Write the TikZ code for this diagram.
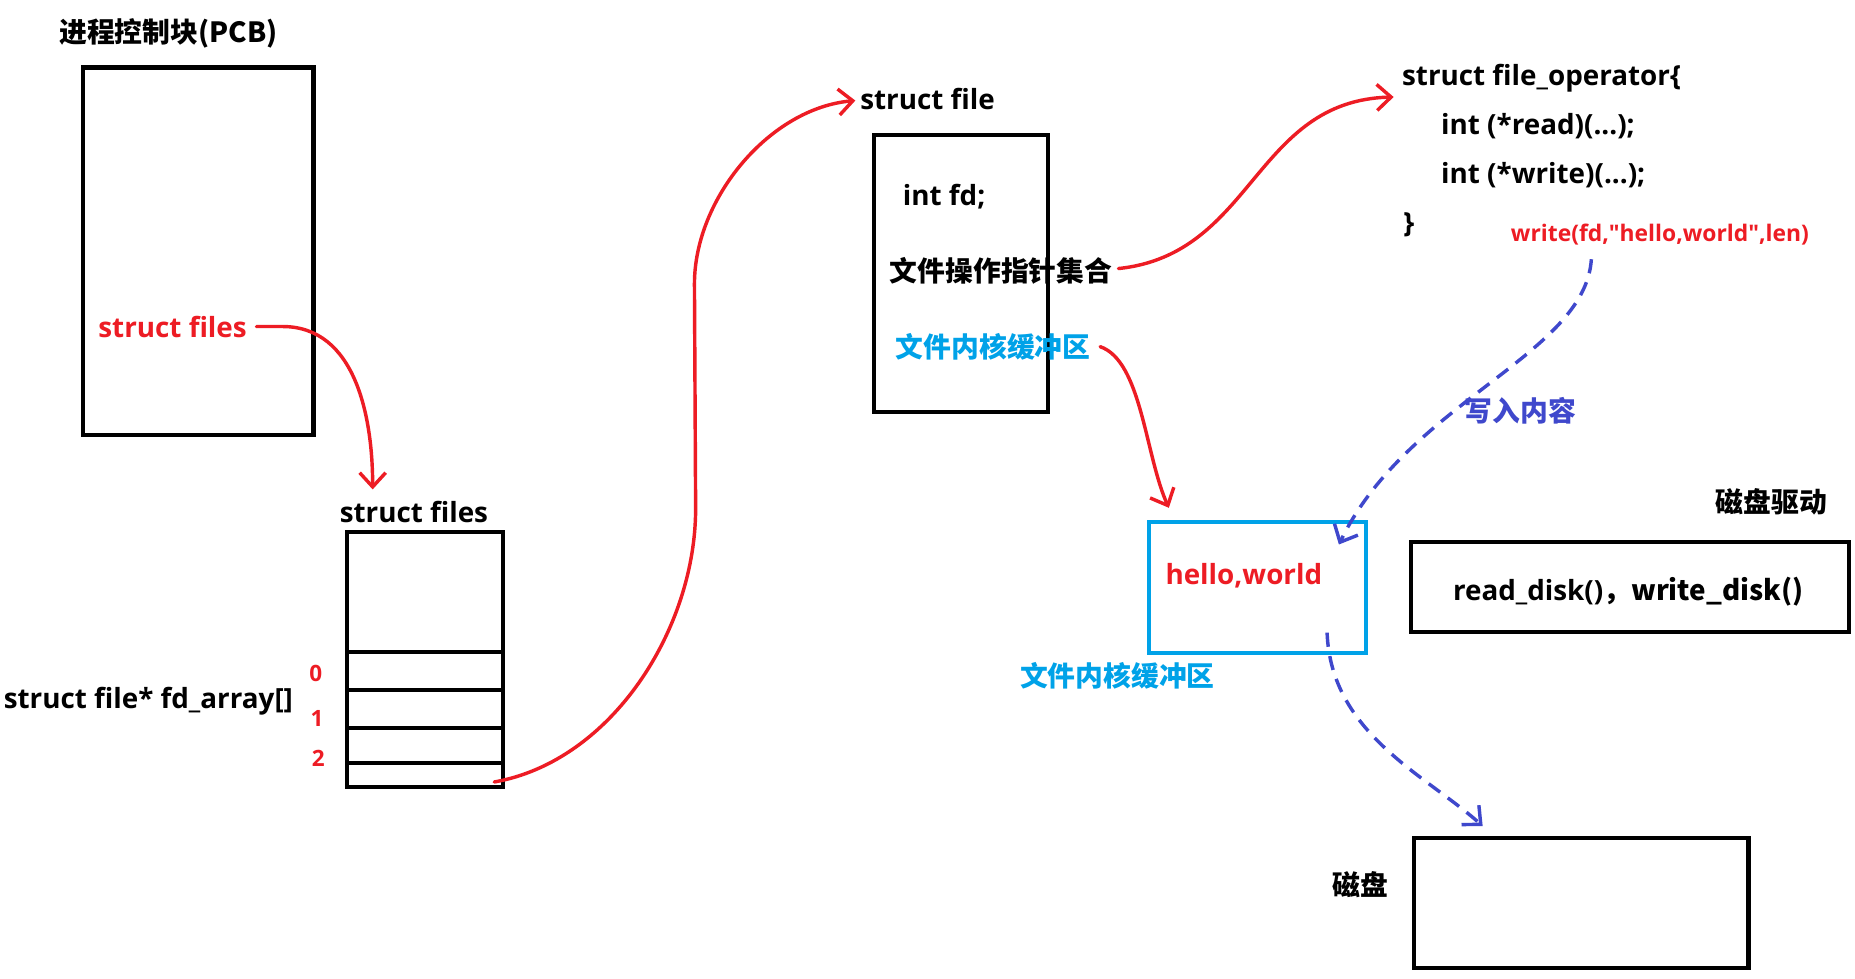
\documentclass[tikz,border=0pt]{standalone}
\usepackage{fontspec}
\setmainfont{Open Sans}
\newfontfamily\plainsans{Open Sans}
\newfontfamily\cjk{Noto Sans CJK SC}
\usetikzlibrary{arrows.meta,calc}
\definecolor{pred}{HTML}{ED1C24}
\definecolor{pcyan}{HTML}{00A2E8}
\definecolor{pblue}{HTML}{3F48CC}
\begin{document}
\begin{tikzpicture}[x=1pt,y=-1pt,
  lbl/.style={anchor=west,inner sep=0pt,font=\bfseries\fontsize{23.5}{28}\selectfont},
  smalllbl/.style={anchor=west,inner sep=0pt,font=\plainsans\bfseries\fontsize{19.3}{23}\selectfont},
  digit/.style={anchor=center,inner sep=0pt,text=pred,font=\bfseries\fontsize{19}{22}\selectfont},
  box/.style={draw=black,line width=3.5pt,inner sep=0pt},
  cbox/.style={draw=pcyan,line width=3.5pt,inner sep=0pt},
  redarrow/.style={draw=pred,line width=2.9pt,line cap=round,line join=round,-{Straight Barb[length=12pt,width=22pt]}},
  bluearrow/.style={draw=pblue,line width=2.9pt,line join=round,dash pattern=on 12pt off 8pt,-{Straight Barb[length=12pt,width=22pt]}}]
\useasboundingbox (0,0) rectangle (1568,827);
\fill[white] (0,0) rectangle (1568,827);

% PCB
\node[lbl] (title) at (50,28) {\cjk 进程控制块(PCB)};
\node[box,minimum width=195pt,minimum height=311pt] (pcb) at (167.5,212.5) {};
\node[lbl,text=pred] (sfred) at (83,276) {struct files};

% struct files table
\node[lbl] (sfblk) at (287,433) {struct files};
\node[box,minimum width=132pt,minimum height=101pt] (ftop) at (359,500.5) {};
\node[box,minimum width=132pt,minimum height=32pt] (r0) at (359,567) {};
\node[box,minimum width=132pt,minimum height=32pt] (r1) at (359,599) {};
\node[box,minimum width=132pt,minimum height=30pt] (r2) at (359,630) {};
\node[box,minimum width=132pt,minimum height=20pt] (r3) at (359,655) {};
\node[digit] (d0) at (267,569) {0};
\node[digit] (d1) at (268,607) {1};
\node[digit] (d2) at (269,641) {2};
\node[lbl] (fdarr) at (3,593) {struct file* fd\_array[]};

% struct file
\node[lbl] (sfile) at (727,84) {struct file};
\node[box,minimum width=147pt,minimum height=234pt] (fbox) at (812.5,231) {};
\node[lbl] (intfd) at (763,166) {int fd;};
\node[lbl] (opset) at (752,229) {\cjk 文件操作指针集合};
\node[lbl,text=pcyan] (kbuf1) at (757,293) {\cjk 文件内核缓冲区};

% file_operator
\node[lbl] (fop) at (1185,66) {struct file\_operator\{};
\node[lbl] (rd) at (1218,107) {int (*read)(...);};
\node[lbl] (wr) at (1218,148) {int (*write)(...);};
\node[lbl] (brace) at (1186,190) {\}};
\node[smalllbl,text=pred] (wc) at (1277,198) {write(fd,"hello,world",len)};
\node[lbl,text=pblue] (xr) at (1238,347) {\cjk 写入内容};

% kernel buffer
\node[cbox,minimum width=184pt,minimum height=111pt] (buf) at (1063,496.5) {};
\node[lbl,text=pred] (hw) at (985,487) {hello,world};
\node[lbl,text=pcyan] (kbuf2) at (862,571) {\cjk 文件内核缓冲区};

% disk driver
\node[lbl] (drv) at (1450,424) {\cjk 磁盘驱动};
\node[box,minimum width=370pt,minimum height=76pt] (rwbox) at (1378,496) {};
\node[lbl] (rw) at (1228,500) {read\_disk()\cjk{，}write\_disk()};

% disk
\node[lbl] (disklbl) at (1126,748) {\cjk 磁盘};
\node[box,minimum width=283pt,minimum height=110pt] (disk) at (1336.5,763) {};

% connectors
\draw[redarrow] ([xshift=8pt]sfred.east) -- ++(22,0) to[out=0,in=90,looseness=1.0] ([yshift=10pt]sfblk.north -| 315,0);
\draw[redarrow] ([xshift=-9pt,yshift=-6pt]r3.east) to[out=10,in=-90,looseness=0.9] (588,430) -- (587,240) to[out=90,in=185,looseness=0.9] ([xshift=-4pt,yshift=-1pt]sfile.west);
\draw[redarrow] ([xshift=5pt,yshift=2pt]opset.east) .. controls (1060,215) and (1060,85) .. ([xshift=-7pt,yshift=-16pt]fop.west);
\draw[redarrow] ([xshift=8pt]kbuf1.east) .. controls (965,305) and (968,385) .. ([xshift=-75pt,yshift=10pt]buf.north);
\draw[bluearrow] ([xshift=-58pt,yshift=-12pt]wc.south) .. controls (1340,300) and (1190,340) .. ([xshift=-25pt,yshift=-21pt]buf.north east);
\draw[bluearrow] ([xshift=-35pt,yshift=19pt]buf.south east) .. controls (1125,620) and (1205,655) .. ([xshift=60pt,yshift=8pt]disk.north west);
\end{tikzpicture}
\end{document}
